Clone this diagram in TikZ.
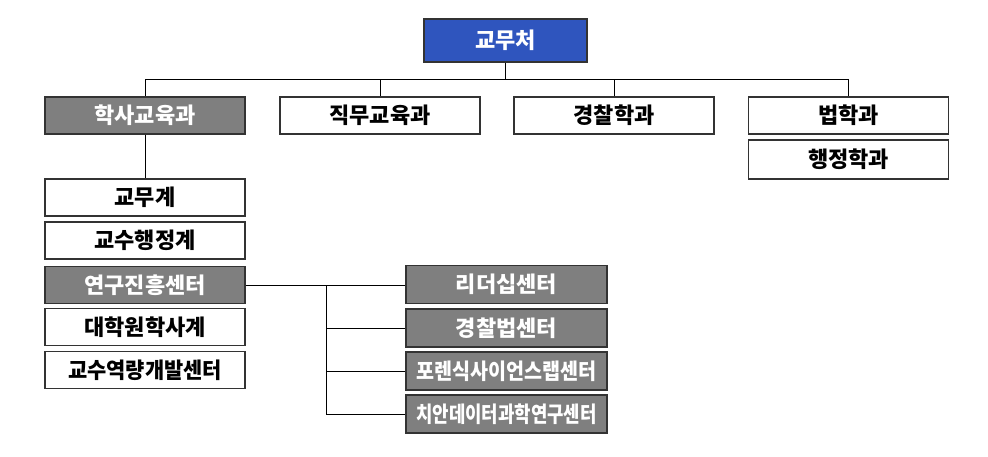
\documentclass[tikz,border=0pt]{standalone}
\usepackage{fontspec}
\newfontfamily\kr{Noto Sans CJK KR}
\definecolor{topblue}{HTML}{2F55BE}
\definecolor{boxgray}{HTML}{7F7F7F}
\definecolor{edge}{HTML}{333333}
\begin{document}
\begin{tikzpicture}[x=1pt,y=-1pt,
  box/.style={draw=edge, line width=1.3pt, rectangle, minimum width=200pt, minimum height=37pt, inner sep=0pt, font=\kr\bfseries\fontsize{22}{25}\selectfont, text=black, fill=white},
  graybox/.style={box, fill=boxgray, text=white},
  bluebox/.style={box, fill=topblue, text=white, minimum width=163pt, minimum height=43pt},
  conn/.style={draw=black, line width=0.9pt}]
\useasboundingbox (0,0) rectangle (988,456);
% top
\node[bluebox] (top) at (505.5,40.5) {교무처};
% row 1
\node[graybox] (hs) at (145,115.5) {학사교육과};
\node[box] (jm) at (380,115.5) {직무교육과};
\node[box] (gc) at (614,115.5) {경찰학과};
\node[box] (bb) at (848.5,115.5) {법학과};
\node[box, minimum height=39pt] (hj) at (848.5,159.5) {행정학과};
% left column
\node[box] (gmg) at (145,197.5) {교무계};
\node[box] (ghj) at (145,240.5) {교수행정계};
\node[graybox] (yg) at (145,285) {연구진흥센터};
\node[box] (dh) at (145,327) {대학원학사계};
\node[box] (gy) at (145,370) {\scalebox{0.95}[1]{교수역량개발센터}};
% right column
\node[graybox, minimum width=201pt, minimum height=38pt] (ld) at (506.5,284.5) {리더십센터};
\node[graybox, minimum width=201pt, minimum height=38pt] (gcb) at (506.5,328) {경찰법센터};
\node[graybox, minimum width=201pt, minimum height=38pt] (fr) at (506.5,371) {\scalebox{0.89}[1]{포렌식사이언스랩센터}};
\node[graybox, minimum width=201pt, minimum height=38pt] (ci) at (506.5,414) {\scalebox{0.81}[1]{치안데이터과학연구센터}};
% connectors
\coordinate (bus) at (0,79);
\coordinate (tr) at (326,0);
\draw[conn] (top.south) -- (top.south |- bus);
\draw[conn] (hs.north |- bus) -- (bb.north |- bus);
\draw[conn] (hs.north |- bus) -- (hs.north);
\draw[conn] (jm.north |- bus) -- (jm.north);
\draw[conn] (gc.north |- bus) -- (gc.north);
\draw[conn] (bb.north |- bus) -- (bb.north);
\draw[conn] (hs.south) -- (gmg.north);
\draw[conn] (yg.east) -- (yg.east -| ld.west);
\draw[conn] (yg.east -| tr) |- (ci.west);
\draw[conn] (tr |- gcb.west) -- (gcb.west);
\draw[conn] (tr |- fr.west) -- (fr.west);
\end{tikzpicture}
\end{document}
